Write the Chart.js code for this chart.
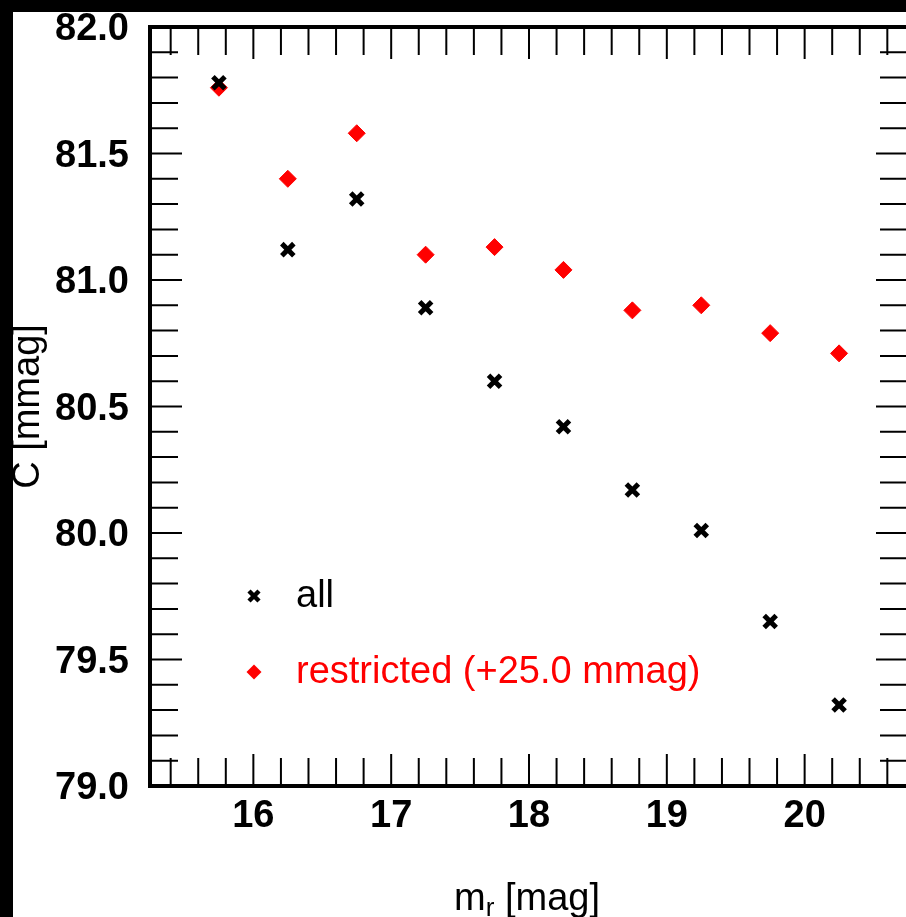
<!DOCTYPE html>
<html>
<head>
<meta charset="utf-8">
<script src="https://cdn.jsdelivr.net/npm/chart.js@4.4.1/dist/chart.umd.min.js"></script>
<style>
  html, body { margin: 0; padding: 0; background: #000; overflow: hidden; width: 906px; height: 917px; }
  #wrap { position: absolute; left: 13px; top: 12px; width: 920px; height: 905px; background: #fff; }
</style>
</head>
<body>
<div id="wrap"><canvas id="magChart" width="920" height="905"></canvas></div>
<script>
// magnitude bins and mean C per bin
var magBins = [15.75, 16.25, 16.75, 17.25, 17.75, 18.25, 18.75, 19.25, 19.75, 20.25];
var cAll = [81.78, 81.12, 81.32, 80.89, 80.60, 80.42, 80.17, 80.01, 79.65, 79.32];
var cRestricted = [81.76, 81.40, 81.58, 81.10, 81.13, 81.04, 80.88, 80.90, 80.79, 80.71];

var xTicks = [16, 17, 18, 19, 20];
var yTicks = [79.0, 79.5, 80.0, 80.5, 81.0, 81.5, 82.0];
var xMinorStep = 0.2;
var yMinorStep = 0.1;

var fontFam = '"Liberation Sans", Arial, Helvetica, sans-serif';

function toPoints(ys) {
  return magBins.map(function (m, i) { return { x: m, y: ys[i] }; });
}

// inward ticks on all four sides, frame, legend and x title
var frameTicks = {
  id: 'frameTicks',
  afterDraw: function (chart) {
    var ctx = chart.ctx;
    var a = chart.chartArea;
    var xs = chart.scales.x, ys = chart.scales.y;
    var minorLen = 28, majorLen = 32;
    ctx.save();
    ctx.strokeStyle = '#000';
    ctx.lineWidth = 2;
    ctx.beginPath();
    var n, v, p, len;
    for (n = Math.ceil(xs.min / xMinorStep); n * xMinorStep <= xs.max; n++) {
      v = n * xMinorStep;
      p = xs.getPixelForValue(v);
      len = Math.abs(v - Math.round(v)) < 1e-6 ? majorLen : minorLen;
      ctx.moveTo(p, a.bottom); ctx.lineTo(p, a.bottom - len);
      ctx.moveTo(p, a.top); ctx.lineTo(p, a.top + len);
    }
    for (n = Math.ceil(ys.min / yMinorStep - 1e-6); n * yMinorStep <= ys.max + 1e-6; n++) {
      v = n * yMinorStep;
      p = ys.getPixelForValue(v);
      len = Math.abs(v * 2 - Math.round(v * 2)) < 1e-6 ? majorLen : minorLen;
      ctx.moveTo(a.left, p); ctx.lineTo(a.left + len, p);
      ctx.moveTo(a.right, p); ctx.lineTo(a.right - len, p);
    }
    ctx.stroke();

    ctx.lineWidth = 4;
    ctx.strokeRect(a.left, a.top, a.right - a.left, a.bottom - a.top);

    // legend inside the plot
    var ds = chart.data.datasets;
    var symX = a.left + 104;
    var rowsY = [a.top + 569, a.top + 645];
    ctx.font = '38px ' + fontFam;
    ctx.textAlign = 'left';
    ctx.textBaseline = 'alphabetic';
    ds.forEach(function (d, i) {
      var cy = rowsY[i];
      ctx.fillStyle = d.backgroundColor;
      ctx.strokeStyle = d.borderColor;
      if (d.pointStyle === 'crossRot') {
        ctx.lineWidth = 4.5;
        ctx.beginPath();
        ctx.moveTo(symX - 5, cy - 5); ctx.lineTo(symX + 5, cy + 5);
        ctx.moveTo(symX - 5, cy + 5); ctx.lineTo(symX + 5, cy - 5);
        ctx.stroke();
      } else {
        ctx.beginPath();
        ctx.moveTo(symX, cy - 7.5); ctx.lineTo(symX + 7.5, cy);
        ctx.lineTo(symX, cy + 7.5); ctx.lineTo(symX - 7.5, cy);
        ctx.closePath();
        ctx.fill();
      }
      ctx.fillText(d.label, a.left + 146, cy + 11);
    });

    // x title with subscript r
    var base = a.bottom + 124;
    ctx.fillStyle = '#000';
    var f1 = '38px ' + fontFam, f2 = '26px ' + fontFam;
    ctx.font = f1; var w1 = ctx.measureText('m').width;
    var w3 = ctx.measureText(' [mag]').width;
    ctx.font = f2; var w2 = ctx.measureText('r').width;
    var x0 = (a.left + a.right) / 2 - 2 - (w1 + w2 + w3) / 2;
    ctx.font = f1; ctx.fillText('m', x0, base);
    ctx.font = f2; ctx.fillText('r', x0 + w1, base + 6);
    ctx.font = f1; ctx.fillText(' [mag]', x0 + w1 + w2, base);
    ctx.restore();
  }
};

var ctx = document.getElementById('magChart').getContext('2d');
var chart = new Chart(ctx, {
  type: 'scatter',
  data: {
    datasets: [{
      label: 'all',
      data: toPoints(cAll),
      pointStyle: 'crossRot',
      pointRadius: 8.5,
      pointBorderWidth: 5,
      borderColor: '#000000',
      backgroundColor: '#000000'
    }, {
      label: 'restricted (+25.0 mmag)',
      data: toPoints(cRestricted),
      pointStyle: 'rectRot',
      pointRadius: 8.5,
      pointBorderWidth: 1,
      borderColor: '#ff0000',
      backgroundColor: '#ff0000'
    }]
  },
  options: {
    responsive: false,
    animation: false,
    devicePixelRatio: 1,
    layout: { padding: { top: 15, right: 25, left: 0, bottom: 0 } },
    plugins: {
      legend: { display: false },
      tooltip: { enabled: false }
    },
    scales: {
      x: {
        type: 'linear',
        min: 15.25,
        max: 20.75,
        grid: { display: false },
        border: { display: false },
        afterBuildTicks: function (s) { s.ticks = xTicks.map(function (v) { return { value: v }; }); },
        afterFit: function (s) { s.height = 131; s.paddingLeft = 0; s.paddingRight = 0; },
        ticks: {
          autoSkip: false,
          maxRotation: 0,
          padding: 0,
          color: '#000',
          font: { family: fontFam, size: 38, weight: 'bold' },
          callback: function (v) { return String(v); }
        }
      },
      y: {
        type: 'linear',
        min: 79,
        max: 82,
        grid: { display: false },
        border: { display: false },
        afterBuildTicks: function (s) { s.ticks = yTicks.map(function (v) { return { value: v }; }); },
        afterFit: function (s) { s.width = 137; s.paddingTop = 0; s.paddingBottom = 0; },
        ticks: {
          autoSkip: false,
          padding: 13,
          labelOffset: 3,
          color: '#000',
          font: { family: fontFam, size: 38, weight: 'bold', lineHeight: 0.5 },
          callback: function (v) { return Number(v).toFixed(1); }
        },
        title: {
          display: true,
          text: 'C [mmag]',
          color: '#000',
          padding: 0,
          font: { family: fontFam, size: 38, lineHeight: 0.84 }
        }
      }
    }
  },
  plugins: [frameTicks]
});
</script>
</body>
</html>
